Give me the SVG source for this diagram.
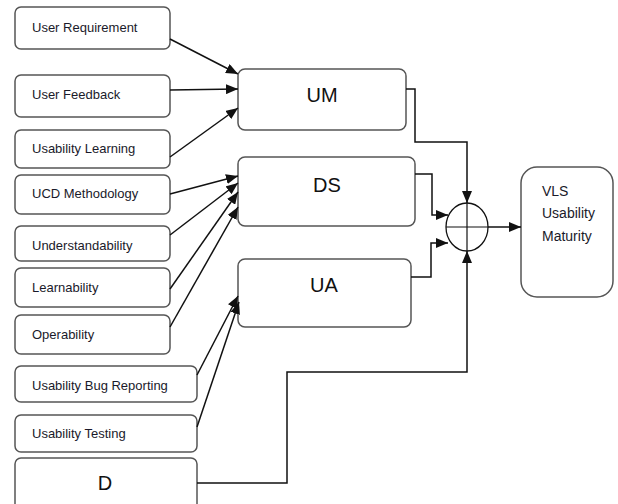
<svg xmlns="http://www.w3.org/2000/svg" width="618" height="504" viewBox="0 0 618 504">
<style>
.box{fill:#fff;stroke:#555;stroke-width:1.5}
.lbl{font-family:"Liberation Sans",Arial,sans-serif;font-size:13px;fill:#1a1a2a}
.big{font-family:"Liberation Sans",Arial,sans-serif;font-size:20px;fill:#111;text-anchor:middle}
.ln{fill:none;stroke:#111;stroke-width:1.5}
</style>
<defs>
<marker id="ah" viewBox="0 0 12 10" refX="12" refY="5" markerWidth="12" markerHeight="10" markerUnits="userSpaceOnUse" orient="auto">
<path d="M0,0 L12,5 L0,10 z" fill="#111"/>
</marker>
</defs>
<rect width="618" height="504" fill="#fff"/>
<g id="n-user-requirement"><rect class="box" x="15" y="7" width="155" height="42" rx="6"/><text class="lbl" x="32" y="32">User Requirement</text></g>
<g id="n-user-feedback"><rect class="box" x="15" y="75" width="155" height="42" rx="6"/><text class="lbl" x="32" y="99">User Feedback</text></g>
<g id="n-usability-learning"><rect class="box" x="15" y="130" width="155" height="38" rx="6"/><text class="lbl" x="32" y="153">Usability Learning</text></g>
<g id="n-ucd"><rect class="box" x="15" y="175" width="155" height="39" rx="6"/><text class="lbl" x="32" y="198">UCD Methodology</text></g>
<g id="n-understandability"><rect class="box" x="15" y="226" width="155" height="35" rx="6"/><text class="lbl" x="32" y="250">Understandability</text></g>
<g id="n-learnability"><rect class="box" x="15" y="268" width="155" height="39" rx="6"/><text class="lbl" x="32" y="292">Learnability</text></g>
<g id="n-operability"><rect class="box" x="15" y="315" width="155" height="39" rx="6"/><text class="lbl" x="32" y="339">Operability</text></g>
<g id="n-bug-reporting"><rect class="box" x="15" y="366" width="182" height="36" rx="6"/><text class="lbl" x="32" y="390">Usability Bug Reporting</text></g>
<g id="n-usability-testing"><rect class="box" x="15" y="415" width="182" height="37" rx="6"/><text class="lbl" x="32" y="438">Usability Testing</text></g>
<g id="n-d"><rect class="box" x="15" y="458" width="182" height="60" rx="6"/><text class="big" x="105" y="490">D</text></g>
<g id="n-um"><rect class="box" x="238" y="69" width="168" height="61" rx="7"/><text class="big" x="322" y="102">UM</text></g>
<g id="n-ds"><rect class="box" x="238" y="157" width="177" height="69" rx="7"/><text class="big" x="327" y="192">DS</text></g>
<g id="n-ua"><rect class="box" x="238" y="259" width="173" height="68" rx="7"/><text class="big" x="324" y="292">UA</text></g>
<g id="n-sum"><ellipse cx="467" cy="227" rx="21" ry="24" fill="#fff" stroke="#111" stroke-width="1.3"/><line x1="446" y1="227" x2="488" y2="227" stroke="#111" stroke-width="1.2"/><line x1="467" y1="203" x2="467" y2="251" stroke="#111" stroke-width="1.2"/></g>
<g id="n-vls"><rect class="box" x="521" y="167" width="92" height="130" rx="16"/><text class="lbl" x="542" y="196" style="font-size:14px">VLS</text><text class="lbl" x="542" y="218" style="font-size:14px">Usability</text><text class="lbl" x="542" y="241" style="font-size:14px">Maturity</text></g>
<g id="connectors">
<line class="ln" x1="170" y1="39" x2="238" y2="74" marker-end="url(#ah)"/>
<line class="ln" x1="170" y1="90" x2="238" y2="89" marker-end="url(#ah)"/>
<line class="ln" x1="170" y1="157" x2="238" y2="108" marker-end="url(#ah)"/>
<line class="ln" x1="170" y1="194" x2="238" y2="176" marker-end="url(#ah)"/>
<line class="ln" x1="170" y1="235" x2="238" y2="183" marker-end="url(#ah)"/>
<line class="ln" x1="170" y1="289" x2="238" y2="192" marker-end="url(#ah)"/>
<line class="ln" x1="170" y1="327" x2="238" y2="207" marker-end="url(#ah)"/>
<line class="ln" x1="197" y1="375" x2="238" y2="296" marker-end="url(#ah)"/>
<line class="ln" x1="197" y1="427" x2="239" y2="302" marker-end="url(#ah)"/>
<polyline class="ln" points="406,89 415,89 415,142 467,142 467,203" marker-end="url(#ah)"/>
<polyline class="ln" points="415,174 432,174 432,215 448,215" marker-end="url(#ah)"/>
<polyline class="ln" points="411,277 431,277 431,243 448,243" marker-end="url(#ah)"/>
<polyline class="ln" points="197,483 287,483 287,372 467,372 467,251" marker-end="url(#ah)"/>
<line class="ln" x1="488" y1="227" x2="521" y2="227" marker-end="url(#ah)"/>
</g>
</svg>
